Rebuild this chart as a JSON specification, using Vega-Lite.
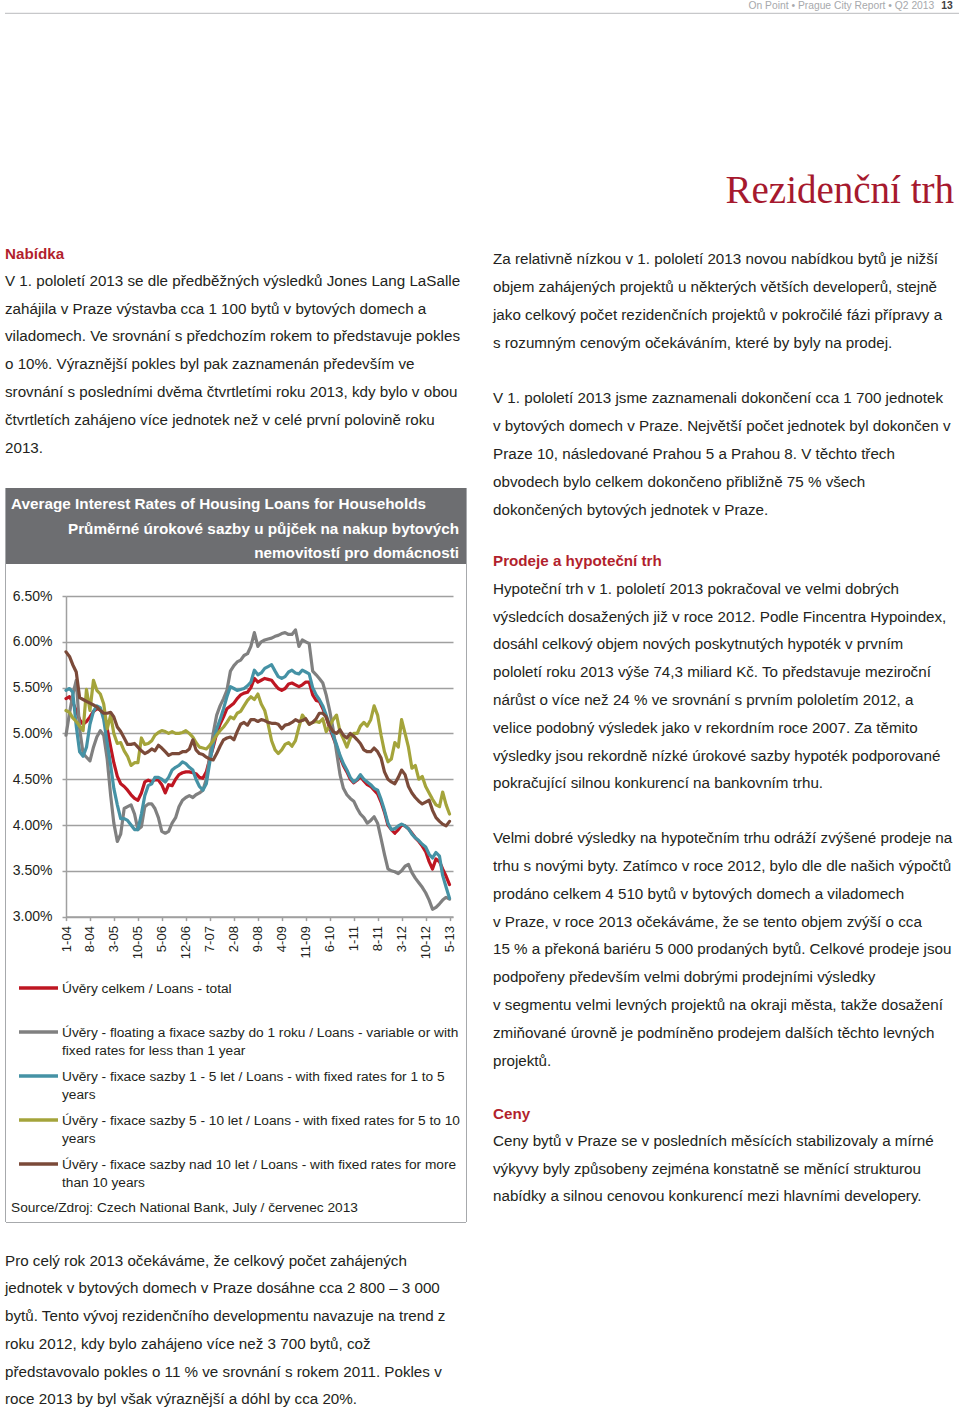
{
  "$schema": "https://vega.github.io/schema/vega-lite/v6.json",
  "background": "#ffffff",
  "padding": {"left": 4, "top": 0, "right": 0, "bottom": 0},
  "spacing": 0,
  "config": {"view": {"stroke": null}, "font": "Liberation Sans", "text": {"font": "Liberation Sans"}},
  "datasets": {
    "nab": [
      {"line": 0, "role": "heading", "text": "Nabídka"},
      {"line": 1, "role": "body", "text": "V 1. pololetí 2013 se dle předběžných výsledků Jones Lang LaSalle"},
      {"line": 2, "role": "body", "text": "zahájila v Praze výstavba cca 1 100 bytů v bytových domech a"},
      {"line": 3, "role": "body", "text": "viladomech. Ve srovnání s předchozím rokem to představuje pokles"},
      {"line": 4, "role": "body", "text": "o 10%. Výraznější pokles byl pak zaznamenán především ve"},
      {"line": 5, "role": "body", "text": "srovnání s posledními dvěma čtvrtletími roku 2013, kdy bylo v obou"},
      {"line": 6, "role": "body", "text": "čtvrtletích zahájeno více jednotek než v celé první polovině roku"},
      {"line": 7, "role": "body", "text": "2013."}
    ],
    "bottom": [
      {"line": 0, "text": "Pro celý rok 2013 očekáváme, že celkový počet zahájených"},
      {"line": 1, "text": "jednotek v bytových domech v Praze dosáhne cca 2 800 – 3 000"},
      {"line": 2, "text": "bytů. Tento vývoj rezidenčního developmentu navazuje na trend z"},
      {"line": 3, "text": "roku 2012, kdy bylo zahájeno více než 3 700 bytů, což"},
      {"line": 4, "text": "představovalo pokles o 11 % ve srovnání s rokem 2011. Pokles v"},
      {"line": 5, "text": "roce 2013 by byl však výraznější a dóhl by cca 20%."}
    ],
    "right": [
      {"para": 1, "line": 0, "role": "body", "text": "Za relativně nízkou v 1. pololetí 2013 novou nabídkou bytů je nižší"},
      {"para": 1, "line": 1, "role": "body", "text": "objem zahájených projektů u některých větších developerů, stejně"},
      {"para": 1, "line": 2, "role": "body", "text": "jako celkový počet rezidenčních projektů v pokročilé fázi přípravy a"},
      {"para": 1, "line": 3, "role": "body", "text": "s rozumným cenovým očekáváním, které by byly na prodej."},
      {"para": 2, "line": 0, "role": "body", "text": "V 1. pololetí 2013 jsme zaznamenali dokončení cca 1 700 jednotek"},
      {"para": 2, "line": 1, "role": "body", "text": "v bytových domech v Praze. Největší počet jednotek byl dokončen v"},
      {"para": 2, "line": 2, "role": "body", "text": "Praze 10, následované Prahou 5 a Prahou 8. V těchto třech"},
      {"para": 2, "line": 3, "role": "body", "text": "obvodech bylo celkem dokončeno přibližně 75 % všech"},
      {"para": 2, "line": 4, "role": "body", "text": "dokončených bytových jednotek v Praze."},
      {"para": 3, "line": 0, "role": "heading", "text": "Prodeje a hypoteční trh"},
      {"para": 3, "line": 1, "role": "body", "text": "Hypoteční trh v 1. pololetí 2013 pokračoval ve velmi dobrých"},
      {"para": 3, "line": 2, "role": "body", "text": "výsledcích dosažených již v roce 2012. Podle Fincentra Hypoindex,"},
      {"para": 3, "line": 3, "role": "body", "text": "dosáhl celkový objem nových poskytnutých hypoték v prvním"},
      {"para": 3, "line": 4, "role": "body", "text": "pololetí roku 2013 výše 74,3 miliard Kč. To představuje meziroční"},
      {"para": 3, "line": 5, "role": "body", "text": "nárůst o více než 24 % ve srovnání s prvním pololetím 2012, a"},
      {"para": 3, "line": 6, "role": "body", "text": "velice podobný výsledek jako v rekordním roce 2007. Za těmito"},
      {"para": 3, "line": 7, "role": "body", "text": "výsledky jsou rekordně nízké úrokové sazby hypoték podporované"},
      {"para": 3, "line": 8, "role": "body", "text": "pokračující silnou konkurencí na bankovním trhu."},
      {"para": 4, "line": 0, "role": "body", "text": "Velmi dobré výsledky na hypotečním trhu odráží zvýšené prodeje na"},
      {"para": 4, "line": 1, "role": "body", "text": "trhu s novými byty. Zatímco v roce 2012, bylo dle dle našich výpočtů"},
      {"para": 4, "line": 2, "role": "body", "text": "prodáno celkem 4 510 bytů v bytových domech a viladomech"},
      {"para": 4, "line": 3, "role": "body", "text": "v Praze, v roce 2013 očekáváme, že se tento objem zvýší o cca"},
      {"para": 4, "line": 4, "role": "body", "text": "15 % a překoná bariéru 5 000 prodaných bytů. Celkové prodeje jsou"},
      {"para": 4, "line": 5, "role": "body", "text": "podpořeny především velmi dobrými prodejními výsledky"},
      {"para": 4, "line": 6, "role": "body", "text": "v segmentu velmi levných projektů na okraji města, takže dosažení"},
      {"para": 4, "line": 7, "role": "body", "text": "zmiňované úrovně je podmíněno prodejem dalších těchto levných"},
      {"para": 4, "line": 8, "role": "body", "text": "projektů."},
      {"para": 5, "line": 0, "role": "heading", "text": "Ceny"},
      {"para": 5, "line": 1, "role": "body", "text": "Ceny bytů v Praze se v posledních měsících stabilizovaly a mírné"},
      {"para": 5, "line": 2, "role": "body", "text": "výkyvy byly způsobeny zejména konstatně se měnící strukturou"},
      {"para": 5, "line": 3, "role": "body", "text": "nabídky a silnou cenovou konkurencí mezi hlavními developery."}
    ],
    "bar": [
      {"line": 0, "text": "Average Interest Rates of Housing Loans for Households"},
      {"line": 1, "text": "Průměrné úrokové sazby u půjček na nakup bytových"},
      {"line": 2, "text": "nemovitostí pro domácnosti"}
    ],
    "legend": [
      {"item": 0, "series": "total", "l1": "Úvěry celkem / Loans - total", "l2": ""},
      {"item": 1, "series": "floating", "l1": "Úvěry - floating a fixace sazby do 1 roku / Loans - variable or with", "l2": "fixed rates for less than 1 year"},
      {"item": 2, "series": "fix1to5", "l1": "Uvěry - fixace sazby 1 - 5 let / Loans - with fixed rates for 1 to 5", "l2": "years"},
      {"item": 3, "series": "fix5to10", "l1": "Úvěry - fixace sazby 5 - 10 let / Loans - with fixed rates for 5 to 10", "l2": "years"},
      {"item": 4, "series": "fix10plus", "l1": "Úvěry - fixace sazby nad 10 let / Loans - with fixed rates for more", "l2": "than 10 years"}
    ],
    "rates": [
      {"date": "2004-01-01", "total": 5.38, "floating": 4.98, "fix1to5": 5.47, "fix5to10": 5.25, "fix10plus": 5.89},
      {"date": "2004-02-01", "total": 5.40, "floating": 5.22, "fix1to5": 5.49, "fix5to10": 5.23, "fix10plus": 5.84},
      {"date": "2004-03-01", "total": 5.34, "floating": 5.42, "fix1to5": 5.45, "fix5to10": 5.17, "fix10plus": 5.75},
      {"date": "2004-04-01", "total": 5.25, "floating": 5.58, "fix1to5": 5.08, "fix5to10": 5.13, "fix10plus": 5.67},
      {"date": "2004-05-01", "total": 5.15, "floating": 5.05, "fix1to5": 4.80, "fix5to10": 5.08, "fix10plus": 5.39},
      {"date": "2004-06-01", "total": 5.10, "floating": 4.78, "fix1to5": 4.75, "fix5to10": 5.03, "fix10plus": 5.37},
      {"date": "2004-07-01", "total": 5.13, "floating": 4.74, "fix1to5": 4.85, "fix5to10": 5.48, "fix10plus": 5.35},
      {"date": "2004-08-01", "total": 5.18, "floating": 4.70, "fix1to5": 5.10, "fix5to10": 5.25, "fix10plus": 5.33},
      {"date": "2004-09-01", "total": 5.24, "floating": 4.85, "fix1to5": 5.24, "fix5to10": 5.58, "fix10plus": 5.31},
      {"date": "2004-10-01", "total": 5.27, "floating": 4.96, "fix1to5": 5.30, "fix5to10": 5.47, "fix10plus": 5.29},
      {"date": "2004-11-01", "total": 5.26, "floating": 5.03, "fix1to5": 5.28, "fix5to10": 5.43, "fix10plus": 5.25},
      {"date": "2004-12-01", "total": 5.20, "floating": 4.98, "fix1to5": 5.15, "fix5to10": 5.32, "fix10plus": 5.22},
      {"date": "2005-01-01", "total": 5.05, "floating": 4.72, "fix1to5": 4.90, "fix5to10": 5.05, "fix10plus": 5.22},
      {"date": "2005-02-01", "total": 4.85, "floating": 4.32, "fix1to5": 4.65, "fix5to10": 5.20, "fix10plus": 5.23},
      {"date": "2005-03-01", "total": 4.68, "floating": 4.02, "fix1to5": 4.40, "fix5to10": 5.00, "fix10plus": 5.18},
      {"date": "2005-04-01", "total": 4.53, "floating": 3.82, "fix1to5": 4.22, "fix5to10": 4.89, "fix10plus": 5.07},
      {"date": "2005-05-01", "total": 4.45, "floating": 3.90, "fix1to5": 4.07, "fix5to10": 4.90, "fix10plus": 5.02},
      {"date": "2005-06-01", "total": 4.42, "floating": 4.18, "fix1to5": 4.07, "fix5to10": 4.81, "fix10plus": 4.95},
      {"date": "2005-07-01", "total": 4.38, "floating": 4.20, "fix1to5": 4.05, "fix5to10": 4.75, "fix10plus": 4.88},
      {"date": "2005-08-01", "total": 4.33, "floating": 4.22, "fix1to5": 4.00, "fix5to10": 4.65, "fix10plus": 4.88},
      {"date": "2005-09-01", "total": 4.29, "floating": 4.12, "fix1to5": 3.95, "fix5to10": 4.68, "fix10plus": 4.89},
      {"date": "2005-10-01", "total": 4.27, "floating": 3.95, "fix1to5": 3.95, "fix5to10": 4.68, "fix10plus": 4.85},
      {"date": "2005-11-01", "total": 4.35, "floating": 3.98, "fix1to5": 4.12, "fix5to10": 4.95, "fix10plus": 4.81},
      {"date": "2005-12-01", "total": 4.47, "floating": 4.20, "fix1to5": 4.32, "fix5to10": 4.88, "fix10plus": 4.78},
      {"date": "2006-01-01", "total": 4.49, "floating": 4.23, "fix1to5": 4.43, "fix5to10": 4.89, "fix10plus": 4.80},
      {"date": "2006-02-01", "total": 4.47, "floating": 4.23, "fix1to5": 4.45, "fix5to10": 4.92, "fix10plus": 4.83},
      {"date": "2006-03-01", "total": 4.50, "floating": 4.18, "fix1to5": 4.52, "fix5to10": 4.98, "fix10plus": 4.81},
      {"date": "2006-04-01", "total": 4.49, "floating": 4.08, "fix1to5": 4.52, "fix5to10": 5.01, "fix10plus": 4.87},
      {"date": "2006-05-01", "total": 4.44, "floating": 3.93, "fix1to5": 4.50, "fix5to10": 5.03, "fix10plus": 4.84},
      {"date": "2006-06-01", "total": 4.35, "floating": 3.91, "fix1to5": 4.47, "fix5to10": 5.02, "fix10plus": 4.80},
      {"date": "2006-07-01", "total": 4.44, "floating": 3.93, "fix1to5": 4.52, "fix5to10": 5.00, "fix10plus": 4.76},
      {"date": "2006-08-01", "total": 4.43, "floating": 4.02, "fix1to5": 4.60, "fix5to10": 5.02, "fix10plus": 4.78},
      {"date": "2006-09-01", "total": 4.50, "floating": 4.08, "fix1to5": 4.63, "fix5to10": 5.00, "fix10plus": 4.78},
      {"date": "2006-10-01", "total": 4.55, "floating": 4.20, "fix1to5": 4.65, "fix5to10": 5.00, "fix10plus": 4.78},
      {"date": "2006-11-01", "total": 4.57, "floating": 4.27, "fix1to5": 4.69, "fix5to10": 5.01, "fix10plus": 4.80},
      {"date": "2006-12-01", "total": 4.58, "floating": 4.30, "fix1to5": 4.67, "fix5to10": 5.03, "fix10plus": 4.80},
      {"date": "2007-01-01", "total": 4.58, "floating": 4.32, "fix1to5": 4.63, "fix5to10": 5.00, "fix10plus": 4.83},
      {"date": "2007-02-01", "total": 4.57, "floating": 4.30, "fix1to5": 4.60, "fix5to10": 4.96, "fix10plus": 4.93},
      {"date": "2007-03-01", "total": 4.56, "floating": 4.33, "fix1to5": 4.50, "fix5to10": 4.90, "fix10plus": 4.82},
      {"date": "2007-04-01", "total": 4.52, "floating": 4.35, "fix1to5": 4.42, "fix5to10": 4.85, "fix10plus": 4.78},
      {"date": "2007-05-01", "total": 4.51, "floating": 4.38, "fix1to5": 4.38, "fix5to10": 4.84, "fix10plus": 4.77},
      {"date": "2007-06-01", "total": 4.58, "floating": 4.50, "fix1to5": 4.45, "fix5to10": 4.83, "fix10plus": 4.74},
      {"date": "2007-07-01", "total": 4.72, "floating": 4.75, "fix1to5": 4.68, "fix5to10": 4.87, "fix10plus": 4.72},
      {"date": "2007-08-01", "total": 4.85, "floating": 5.00, "fix1to5": 4.88, "fix5to10": 4.92, "fix10plus": 4.71},
      {"date": "2007-09-01", "total": 5.00, "floating": 5.20, "fix1to5": 5.05, "fix5to10": 4.98, "fix10plus": 4.78},
      {"date": "2007-10-01", "total": 5.10, "floating": 5.30, "fix1to5": 5.15, "fix5to10": 5.03, "fix10plus": 4.86},
      {"date": "2007-11-01", "total": 5.18, "floating": 5.38, "fix1to5": 5.27, "fix5to10": 5.07, "fix10plus": 4.93},
      {"date": "2007-12-01", "total": 5.27, "floating": 5.47, "fix1to5": 5.40, "fix5to10": 5.12, "fix10plus": 4.95},
      {"date": "2008-01-01", "total": 5.30, "floating": 5.68, "fix1to5": 5.51, "fix5to10": 5.18, "fix10plus": 4.96},
      {"date": "2008-02-01", "total": 5.33, "floating": 5.74, "fix1to5": 5.49, "fix5to10": 5.16, "fix10plus": 4.93},
      {"date": "2008-03-01", "total": 5.38, "floating": 5.78, "fix1to5": 5.47, "fix5to10": 5.22, "fix10plus": 5.02},
      {"date": "2008-04-01", "total": 5.42, "floating": 5.80, "fix1to5": 5.48, "fix5to10": 5.24, "fix10plus": 5.10},
      {"date": "2008-05-01", "total": 5.44, "floating": 5.85, "fix1to5": 5.49, "fix5to10": 5.30, "fix10plus": 5.12},
      {"date": "2008-06-01", "total": 5.45, "floating": 5.87, "fix1to5": 5.52, "fix5to10": 5.36, "fix10plus": 5.09},
      {"date": "2008-07-01", "total": 5.50, "floating": 5.95, "fix1to5": 5.56, "fix5to10": 5.40, "fix10plus": 5.15},
      {"date": "2008-08-01", "total": 5.60, "floating": 6.10, "fix1to5": 5.69, "fix5to10": 5.37, "fix10plus": 5.15},
      {"date": "2008-09-01", "total": 5.56, "floating": 5.95, "fix1to5": 5.64, "fix5to10": 5.43, "fix10plus": 5.13},
      {"date": "2008-10-01", "total": 5.58, "floating": 6.00, "fix1to5": 5.66, "fix5to10": 5.32, "fix10plus": 5.15},
      {"date": "2008-11-01", "total": 5.60, "floating": 6.02, "fix1to5": 5.71, "fix5to10": 5.25, "fix10plus": 5.14},
      {"date": "2008-12-01", "total": 5.59, "floating": 6.03, "fix1to5": 5.73, "fix5to10": 5.10, "fix10plus": 5.12},
      {"date": "2009-01-01", "total": 5.58, "floating": 6.04, "fix1to5": 5.75, "fix5to10": 4.92, "fix10plus": 5.11},
      {"date": "2009-02-01", "total": 5.53, "floating": 6.06, "fix1to5": 5.68, "fix5to10": 4.82, "fix10plus": 5.11},
      {"date": "2009-03-01", "total": 5.49, "floating": 6.07, "fix1to5": 5.62, "fix5to10": 4.78, "fix10plus": 5.10},
      {"date": "2009-04-01", "total": 5.47, "floating": 6.09, "fix1to5": 5.60, "fix5to10": 4.82, "fix10plus": 5.05},
      {"date": "2009-05-01", "total": 5.49, "floating": 6.10, "fix1to5": 5.62, "fix5to10": 4.88, "fix10plus": 5.09},
      {"date": "2009-06-01", "total": 5.54, "floating": 6.08, "fix1to5": 5.67, "fix5to10": 4.90, "fix10plus": 5.10},
      {"date": "2009-07-01", "total": 5.55, "floating": 6.08, "fix1to5": 5.69, "fix5to10": 4.86, "fix10plus": 5.12},
      {"date": "2009-08-01", "total": 5.53, "floating": 6.13, "fix1to5": 5.66, "fix5to10": 4.92, "fix10plus": 5.15},
      {"date": "2009-09-01", "total": 5.51, "floating": 5.95, "fix1to5": 5.65, "fix5to10": 5.07, "fix10plus": 5.13},
      {"date": "2009-10-01", "total": 5.53, "floating": 6.02, "fix1to5": 5.69, "fix5to10": 5.20, "fix10plus": 5.14},
      {"date": "2009-11-01", "total": 5.56, "floating": 6.00, "fix1to5": 5.67, "fix5to10": 5.15, "fix10plus": 5.16},
      {"date": "2009-12-01", "total": 5.56, "floating": 5.98, "fix1to5": 5.65, "fix5to10": 5.10, "fix10plus": 5.10},
      {"date": "2010-01-01", "total": 5.42, "floating": 5.68, "fix1to5": 5.50, "fix5to10": 5.12, "fix10plus": 5.12},
      {"date": "2010-02-01", "total": 5.36, "floating": 5.64, "fix1to5": 5.42, "fix5to10": 5.13, "fix10plus": 5.16},
      {"date": "2010-03-01", "total": 5.35, "floating": 5.60, "fix1to5": 5.37, "fix5to10": 5.12, "fix10plus": 5.22},
      {"date": "2010-04-01", "total": 5.27, "floating": 5.55, "fix1to5": 5.30, "fix5to10": 5.16, "fix10plus": 5.22},
      {"date": "2010-05-01", "total": 5.18, "floating": 5.42, "fix1to5": 5.20, "fix5to10": 5.02, "fix10plus": 5.18},
      {"date": "2010-06-01", "total": 5.06, "floating": 5.25, "fix1to5": 5.08, "fix5to10": 5.08, "fix10plus": 5.08},
      {"date": "2010-07-01", "total": 4.96, "floating": 5.05, "fix1to5": 4.98, "fix5to10": 5.15, "fix10plus": 5.02},
      {"date": "2010-08-01", "total": 4.86, "floating": 4.80, "fix1to5": 4.88, "fix5to10": 5.20, "fix10plus": 5.00},
      {"date": "2010-09-01", "total": 4.74, "floating": 4.55, "fix1to5": 4.76, "fix5to10": 5.02, "fix10plus": 5.04},
      {"date": "2010-10-01", "total": 4.65, "floating": 4.40, "fix1to5": 4.67, "fix5to10": 4.94, "fix10plus": 4.98},
      {"date": "2010-11-01", "total": 4.58, "floating": 4.33, "fix1to5": 4.60, "fix5to10": 4.85, "fix10plus": 4.95},
      {"date": "2010-12-01", "total": 4.50, "floating": 4.29, "fix1to5": 4.52, "fix5to10": 4.95, "fix10plus": 5.00},
      {"date": "2011-01-01", "total": 4.46, "floating": 4.26, "fix1to5": 4.47, "fix5to10": 5.00, "fix10plus": 4.97},
      {"date": "2011-02-01", "total": 4.49, "floating": 4.18, "fix1to5": 4.50, "fix5to10": 5.00, "fix10plus": 4.93},
      {"date": "2011-03-01", "total": 4.53, "floating": 4.12, "fix1to5": 4.55, "fix5to10": 5.08, "fix10plus": 4.89},
      {"date": "2011-04-01", "total": 4.48, "floating": 4.08, "fix1to5": 4.50, "fix5to10": 5.12, "fix10plus": 4.82},
      {"date": "2011-05-01", "total": 4.44, "floating": 4.02, "fix1to5": 4.47, "fix5to10": 5.08, "fix10plus": 4.80},
      {"date": "2011-06-01", "total": 4.42, "floating": 4.05, "fix1to5": 4.44, "fix5to10": 5.15, "fix10plus": 4.80},
      {"date": "2011-07-01", "total": 4.38, "floating": 4.09, "fix1to5": 4.40, "fix5to10": 5.30, "fix10plus": 4.84},
      {"date": "2011-08-01", "total": 4.34, "floating": 4.02, "fix1to5": 4.38, "fix5to10": 5.20, "fix10plus": 4.80},
      {"date": "2011-09-01", "total": 4.25, "floating": 3.85, "fix1to5": 4.28, "fix5to10": 4.98, "fix10plus": 4.73},
      {"date": "2011-10-01", "total": 4.14, "floating": 3.68, "fix1to5": 4.16, "fix5to10": 4.80, "fix10plus": 4.58},
      {"date": "2011-11-01", "total": 4.00, "floating": 3.52, "fix1to5": 4.02, "fix5to10": 4.69, "fix10plus": 4.50},
      {"date": "2011-12-01", "total": 3.95, "floating": 3.50, "fix1to5": 3.95, "fix5to10": 4.72, "fix10plus": 4.47},
      {"date": "2012-01-01", "total": 3.91, "floating": 3.49, "fix1to5": 3.96, "fix5to10": 4.90, "fix10plus": 4.45},
      {"date": "2012-02-01", "total": 3.95, "floating": 3.47, "fix1to5": 3.99, "fix5to10": 4.85, "fix10plus": 4.52},
      {"date": "2012-03-01", "total": 4.00, "floating": 3.50, "fix1to5": 4.01, "fix5to10": 5.15, "fix10plus": 4.60},
      {"date": "2012-04-01", "total": 3.99, "floating": 3.55, "fix1to5": 3.99, "fix5to10": 5.00, "fix10plus": 4.55},
      {"date": "2012-05-01", "total": 3.96, "floating": 3.57, "fix1to5": 3.96, "fix5to10": 4.85, "fix10plus": 4.42},
      {"date": "2012-06-01", "total": 3.91, "floating": 3.48, "fix1to5": 3.90, "fix5to10": 4.62, "fix10plus": 4.35},
      {"date": "2012-07-01", "total": 3.86, "floating": 3.42, "fix1to5": 3.86, "fix5to10": 4.65, "fix10plus": 4.30},
      {"date": "2012-08-01", "total": 3.82, "floating": 3.37, "fix1to5": 3.83, "fix5to10": 4.50, "fix10plus": 4.26},
      {"date": "2012-09-01", "total": 3.77, "floating": 3.32, "fix1to5": 3.79, "fix5to10": 4.53, "fix10plus": 4.23},
      {"date": "2012-10-01", "total": 3.71, "floating": 3.26, "fix1to5": 3.76, "fix5to10": 4.42, "fix10plus": 4.25},
      {"date": "2012-11-01", "total": 3.60, "floating": 3.18, "fix1to5": 3.68, "fix5to10": 4.35, "fix10plus": 4.27},
      {"date": "2012-12-01", "total": 3.52, "floating": 3.08, "fix1to5": 3.64, "fix5to10": 4.28, "fix10plus": 4.16},
      {"date": "2013-01-01", "total": 3.63, "floating": 3.10, "fix1to5": 3.70, "fix5to10": 4.22, "fix10plus": 4.08},
      {"date": "2013-02-01", "total": 3.60, "floating": 3.14, "fix1to5": 3.66, "fix5to10": 4.20, "fix10plus": 4.04},
      {"date": "2013-03-01", "total": 3.52, "floating": 3.18, "fix1to5": 3.45, "fix5to10": 4.36, "fix10plus": 4.01},
      {"date": "2013-04-01", "total": 3.44, "floating": 3.21, "fix1to5": 3.32, "fix5to10": 4.22, "fix10plus": 3.99},
      {"date": "2013-05-01", "total": 3.35, "floating": 3.19, "fix1to5": 3.20, "fix5to10": 4.12, "fix10plus": 4.04}
    ]
  },
  "vconcat": [
    {
      "width": 954, "height": 13.3,
      "layer": [
        {"data": {"values": [{"text": "On Point • Prague City Report • Q2 2013"}]},
         "mark": {"type": "text", "align": "right", "baseline": "middle", "font": "Liberation Sans", "fontSize": 10.3, "color": "#a7a9ac", "xOffset": -24.7},
         "encoding": {"text": {"field": "text"}, "x": {"datum": 1, "type": "quantitative", "scale": {"domain": [0, 1]}, "axis": null}, "y": {"datum": 0.55, "type": "quantitative", "scale": {"domain": [0, 1]}, "axis": null}}},
        {"data": {"values": [{"text": "13"}]},
         "mark": {"type": "text", "align": "right", "baseline": "middle", "font": "Liberation Sans", "fontSize": 10.3, "fontWeight": "bold", "color": "#414042", "xOffset": -6.3},
         "encoding": {"text": {"field": "text"}, "x": {"datum": 1, "type": "quantitative", "scale": {"domain": [0, 1]}, "axis": null}, "y": {"datum": 0.55, "type": "quantitative", "scale": {"domain": [0, 1]}, "axis": null}}},
        {"data": {"values": [{}]},
         "mark": {"type": "rule", "color": "#c7c8ca", "strokeWidth": 1.2},
         "encoding": {"y": {"datum": 0, "type": "quantitative", "scale": {"domain": [0, 1]}, "axis": null}}}
      ]
    },
    {
      "width": 949, "height": 196.8,
      "data": {"values": [{"text": "Rezidenční trh"}]},
      "mark": {"type": "text", "align": "right", "baseline": "bottom", "font": "Liberation Serif", "fontSize": 39, "color": "#a6192e"},
      "encoding": {"text": {"field": "text"}, "x": {"datum": 1, "type": "quantitative", "scale": {"domain": [0, 1]}, "axis": null}, "y": {"datum": 0, "type": "quantitative", "scale": {"domain": [0, 1]}, "axis": null}}
    },
    {"width": 10, "height": 28.45, "data": {"values": []}, "mark": "point"},
    {
      "spacing": 26,
      "hconcat": [
        {
          "spacing": 25,
          "vconcat": [
            {
              "width": 462, "height": 222.85,
              "data": {"name": "nab"},
              "encoding": {
                "x": {"datum": 0, "type": "quantitative", "scale": {"domain": [0, 1]}, "axis": null},
                "y": {"field": "line", "type": "ordinal", "scale": {"type": "point", "padding": 0.5, "domain": [0, 1, 2, 3, 4, 5, 6, 7]}, "axis": null},
                "text": {"field": "text"}
              },
              "layer": [
                {"transform": [{"filter": "datum.role == 'body'"}], "mark": {"type": "text", "align": "left", "baseline": "middle", "font": "Liberation Sans", "fontSize": 15.2, "color": "#231f20", "yOffset": -1}},
                {"transform": [{"filter": "datum.role == 'heading'"}], "mark": {"type": "text", "align": "left", "baseline": "middle", "font": "Liberation Sans", "fontSize": 15.2, "fontWeight": "bold", "color": "#b21f2d", "yOffset": 0}}
              ]
            },
            {
              "spacing": 0,
              "hconcat": [
                {"width": 1, "height": 734, "view": {"fill": "#a7a9ac", "stroke": null}, "data": {"values": []}, "mark": "point"},
                {
                  "spacing": 0,
                  "vconcat": [
                    {
                      "width": 460, "height": 76,
                      "view": {"fill": "#6d6e71", "stroke": null},
                      "data": {"name": "bar"},
                      "encoding": {
                        "y": {"field": "line", "type": "ordinal", "scale": {"type": "point", "padding": 0.583, "domain": [0, 1, 2]}, "axis": null},
                        "text": {"field": "text"}
                      },
                      "layer": [
                        {"transform": [{"filter": "datum.line == 0"}],
                         "mark": {"type": "text", "align": "left", "baseline": "middle", "font": "Liberation Sans", "fontSize": 15.3, "fontWeight": "bold", "color": "#ffffff", "xOffset": 5, "yOffset": 2},
                         "encoding": {"x": {"datum": 0, "type": "quantitative", "scale": {"domain": [0, 1]}, "axis": null}}},
                        {"transform": [{"filter": "datum.line > 0"}],
                         "mark": {"type": "text", "align": "right", "baseline": "middle", "font": "Liberation Sans", "fontSize": 15.3, "fontWeight": "bold", "color": "#ffffff", "xOffset": -7, "yOffset": 3},
                         "encoding": {"x": {"datum": 1, "type": "quantitative", "scale": {"domain": [0, 1]}, "axis": null}}}
                      ]
                    },
                    {"width": 460, "height": 24.8, "data": {"values": []}, "mark": "point"},
                    {
                      "spacing": 0,
                      "hconcat": [
                        {"width": 6, "height": 320.6, "data": {"values": []}, "mark": "point"},
                        {
                          "width": 387, "height": 320.6,
                          "data": {"name": "rates"},
                          "transform": [{"fold": ["total", "floating", "fix1to5", "fix5to10", "fix10plus"], "as": ["series", "rate"]}],
                          "mark": {"type": "line", "strokeWidth": 3.2, "strokeJoin": "round", "strokeCap": "round"},
                          "encoding": {
                            "x": {
                              "field": "date", "type": "temporal",
                              "scale": {"type": "utc", "domain": [{"year": 2004, "month": 1, "date": 1, "utc": true}, {"year": 2013, "month": 6, "date": 1, "utc": true}]},
                              "axis": {
                                "values": [
                                  {"year": 2004, "month": 1, "date": 1, "utc": true}, {"year": 2004, "month": 8, "date": 1, "utc": true},
                                  {"year": 2005, "month": 3, "date": 1, "utc": true}, {"year": 2005, "month": 10, "date": 1, "utc": true},
                                  {"year": 2006, "month": 5, "date": 1, "utc": true}, {"year": 2006, "month": 12, "date": 1, "utc": true},
                                  {"year": 2007, "month": 7, "date": 1, "utc": true}, {"year": 2008, "month": 2, "date": 1, "utc": true},
                                  {"year": 2008, "month": 9, "date": 1, "utc": true}, {"year": 2009, "month": 4, "date": 1, "utc": true},
                                  {"year": 2009, "month": 11, "date": 1, "utc": true}, {"year": 2010, "month": 6, "date": 1, "utc": true},
                                  {"year": 2011, "month": 1, "date": 1, "utc": true}, {"year": 2011, "month": 8, "date": 1, "utc": true},
                                  {"year": 2012, "month": 3, "date": 1, "utc": true}, {"year": 2012, "month": 10, "date": 1, "utc": true},
                                  {"year": 2013, "month": 5, "date": 1, "utc": true}
                                ],
                                "labelExpr": "utcFormat(datum.value, '%-m-%y')",
                                "labelAngle": -90, "labelFont": "Liberation Sans", "labelFontSize": 13, "labelColor": "#231f20",
                                "labelPadding": 5, "labelFlush": false, "labelOverlap": false, "labelBound": false,
                                "tickSize": 4, "tickColor": "#a0a0a0", "tickWidth": 1.5,
                                "domainColor": "#a0a0a0", "domainWidth": 1.5, "grid": false, "title": null
                              }
                            },
                            "y": {
                              "field": "rate", "type": "quantitative",
                              "scale": {"domain": [3, 6.5], "nice": false, "zero": false},
                              "axis": {
                                "values": [3, 3.5, 4, 4.5, 5, 5.5, 6, 6.5],
                                "labelExpr": "format(datum.value, '.2f') + '%'",
                                "labelFont": "Liberation Sans", "labelFontSize": 14, "labelColor": "#231f20",
                                "labelPadding": 10, "labelFlush": false,
                                "grid": true, "gridColor": "#a0a0a0", "gridWidth": 1.5,
                                "tickSize": 4, "tickColor": "#a0a0a0", "tickWidth": 1.5,
                                "domainColor": "#a0a0a0", "domainWidth": 1.5, "title": null
                              }
                            },
                            "color": {
                              "field": "series", "type": "nominal",
                              "scale": {"domain": ["total", "floating", "fix1to5", "fix5to10", "fix10plus"], "range": ["#be1622", "#808080", "#4592a5", "#a4a43b", "#7b4a39"]},
                              "legend": null
                            }
                          }
                        },
                        {"width": 2, "height": 320.6, "data": {"values": []}, "mark": "point"}
                      ]
                    },
                    {"width": 460, "height": 15.1, "data": {"values": []}, "mark": "point"},
                    {
                      "spacing": 0,
                      "hconcat": [
                        {"width": 11, "height": 220, "data": {"values": []}, "mark": "point"},
                        {
                          "width": 39, "height": 220,
                          "data": {"name": "legend"},
                          "mark": {"type": "rule", "strokeWidth": 3.5, "yOffset": -9},
                          "encoding": {
                            "y": {"field": "item", "type": "ordinal", "scale": {"type": "point", "padding": 0.5, "domain": [0, 1, 2, 3, 4]}, "axis": null},
                            "color": {"field": "series", "type": "nominal", "scale": {"domain": ["total", "floating", "fix1to5", "fix5to10", "fix10plus"], "range": ["#be1622", "#808080", "#4592a5", "#a4a43b", "#7b4a39"]}, "legend": null}
                          }
                        },
                        {
                          "width": 405, "height": 220,
                          "data": {"name": "legend"},
                          "encoding": {
                            "x": {"datum": 0, "type": "quantitative", "scale": {"domain": [0, 1]}, "axis": null},
                            "y": {"field": "item", "type": "ordinal", "scale": {"type": "point", "padding": 0.5, "domain": [0, 1, 2, 3, 4]}, "axis": null}
                          },
                          "layer": [
                            {"mark": {"type": "text", "align": "left", "baseline": "middle", "font": "Liberation Sans", "fontSize": 13.7, "color": "#231f20", "xOffset": 2, "yOffset": -8}, "encoding": {"text": {"field": "l1"}}},
                            {"mark": {"type": "text", "align": "left", "baseline": "middle", "font": "Liberation Sans", "fontSize": 13.7, "color": "#231f20", "xOffset": 2, "yOffset": 9.7}, "encoding": {"text": {"field": "l2"}}}
                          ]
                        }
                      ]
                    },
                    {
                      "width": 460, "height": 26.3,
                      "data": {"values": [{"text": "Source/Zdroj: Czech National Bank, July / červenec 2013"}]},
                      "mark": {"type": "text", "align": "left", "baseline": "middle", "font": "Liberation Sans", "fontSize": 13.7, "color": "#231f20", "xOffset": 5},
                      "encoding": {"text": {"field": "text"}, "x": {"datum": 0, "type": "quantitative", "scale": {"domain": [0, 1]}, "axis": null}, "y": {"datum": 0.5, "type": "quantitative", "scale": {"domain": [0, 1]}, "axis": null}}
                    },
                    {"width": 460, "height": 1, "view": {"fill": "#a7a9ac", "stroke": null}, "data": {"values": []}, "mark": "point"}
                  ]
                },
                {"width": 1, "height": 734, "view": {"fill": "#a7a9ac", "stroke": null}, "data": {"values": []}, "mark": "point"}
              ]
            },
            {
              "width": 462, "height": 160,
              "data": {"name": "bottom"},
              "mark": {"type": "text", "align": "left", "baseline": "middle", "font": "Liberation Sans", "fontSize": 15.2, "color": "#231f20", "yOffset": 2},
              "encoding": {
                "x": {"datum": 0, "type": "quantitative", "scale": {"domain": [0, 1]}, "axis": null},
                "y": {"field": "line", "type": "ordinal", "scale": {"type": "point", "padding": 0.378, "domain": [0, 1, 2, 3, 4, 5]}, "axis": null},
                "text": {"field": "text"}
              }
            }
          ]
        },
        {
          "spacing": 0,
          "vconcat": [
            {"width": 10, "height": 4.85, "data": {"values": []}, "mark": "point"},
            {
              "width": 463, "height": 112,
              "data": {"name": "right"},
              "transform": [{"filter": "datum.para == 1"}],
              "mark": {"type": "text", "align": "left", "baseline": "middle", "font": "Liberation Sans", "fontSize": 15.2, "color": "#231f20"},
              "encoding": {
                "x": {"datum": 0, "type": "quantitative", "scale": {"domain": [0, 1]}, "axis": null},
                "y": {"field": "line", "type": "ordinal", "scale": {"type": "point", "padding": 0.5, "domain": [0, 1, 2, 3]}, "axis": null},
                "text": {"field": "text"}
              }
            },
            {"width": 10, "height": 27, "data": {"values": []}, "mark": "point"},
            {
              "width": 463, "height": 140,
              "data": {"name": "right"},
              "transform": [{"filter": "datum.para == 2"}],
              "mark": {"type": "text", "align": "left", "baseline": "middle", "font": "Liberation Sans", "fontSize": 15.2, "color": "#231f20"},
              "encoding": {
                "x": {"datum": 0, "type": "quantitative", "scale": {"domain": [0, 1]}, "axis": null},
                "y": {"field": "line", "type": "ordinal", "scale": {"type": "point", "padding": 0.5, "domain": [0, 1, 2, 3, 4]}, "axis": null},
                "text": {"field": "text"}
              }
            },
            {"width": 10, "height": 22.5, "data": {"values": []}, "mark": "point"},
            {
              "width": 463, "height": 250.2,
              "data": {"name": "right"},
              "transform": [{"filter": "datum.para == 3"}],
              "encoding": {
                "x": {"datum": 0, "type": "quantitative", "scale": {"domain": [0, 1]}, "axis": null},
                "y": {"field": "line", "type": "ordinal", "scale": {"type": "point", "padding": 0.5, "domain": [0, 1, 2, 3, 4, 5, 6, 7, 8]}, "axis": null},
                "text": {"field": "text"}
              },
              "layer": [
                {"transform": [{"filter": "datum.role == 'body'"}], "mark": {"type": "text", "align": "left", "baseline": "middle", "font": "Liberation Sans", "fontSize": 15.2, "color": "#231f20"}},
                {"transform": [{"filter": "datum.role == 'heading'"}], "mark": {"type": "text", "align": "left", "baseline": "middle", "font": "Liberation Sans", "fontSize": 15.2, "fontWeight": "bold", "color": "#b21f2d"}}
              ]
            },
            {"width": 10, "height": 26, "data": {"values": []}, "mark": "point"},
            {
              "width": 463, "height": 250.9,
              "data": {"name": "right"},
              "transform": [{"filter": "datum.para == 4"}],
              "mark": {"type": "text", "align": "left", "baseline": "middle", "font": "Liberation Sans", "fontSize": 15.2, "color": "#231f20"},
              "encoding": {
                "x": {"datum": 0, "type": "quantitative", "scale": {"domain": [0, 1]}, "axis": null},
                "y": {"field": "line", "type": "ordinal", "scale": {"type": "point", "padding": 0.5, "domain": [0, 1, 2, 3, 4, 5, 6, 7, 8]}, "axis": null},
                "text": {"field": "text"}
              }
            },
            {"width": 10, "height": 24.4, "data": {"values": []}, "mark": "point"},
            {
              "width": 463, "height": 109.6,
              "data": {"name": "right"},
              "transform": [{"filter": "datum.para == 5"}],
              "encoding": {
                "x": {"datum": 0, "type": "quantitative", "scale": {"domain": [0, 1]}, "axis": null},
                "y": {"field": "line", "type": "ordinal", "scale": {"type": "point", "padding": 0.5, "domain": [0, 1, 2, 3]}, "axis": null},
                "text": {"field": "text"}
              },
              "layer": [
                {"transform": [{"filter": "datum.role == 'body'"}], "mark": {"type": "text", "align": "left", "baseline": "middle", "font": "Liberation Sans", "fontSize": 15.2, "color": "#231f20"}},
                {"transform": [{"filter": "datum.role == 'heading'"}], "mark": {"type": "text", "align": "left", "baseline": "middle", "font": "Liberation Sans", "fontSize": 15.2, "fontWeight": "bold", "color": "#b21f2d"}}
              ]
            }
          ]
        }
      ]
    }
  ]
}
